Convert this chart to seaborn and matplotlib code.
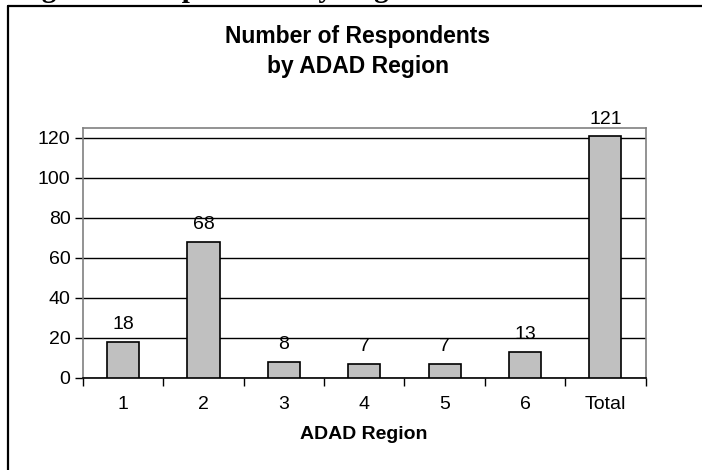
import matplotlib
matplotlib.use("Agg")
import matplotlib.pyplot as plt
from matplotlib.lines import Line2D
import seaborn as sns
import pandas as pd

regions = ["1", "2", "3", "4", "5", "6", "Total"]
respondents = [18, 68, 8, 7, 7, 13, 121]
y_ticks = [0, 20, 40, 60, 80, 100, 120]

sns.set_theme(style="white")
plt.rcParams["font.family"] = ["Liberation Sans", "DejaVu Sans"]
plt.rcParams["text.color"] = "black"
plt.rcParams["axes.labelcolor"] = "black"
plt.rcParams["xtick.color"] = "black"
plt.rcParams["ytick.color"] = "black"

df = pd.DataFrame({"region": regions, "count": respondents})

fig = plt.figure(figsize=(7.02, 4.70), dpi=100)
fig.patch.set_facecolor("white")
ax = fig.add_axes([83 / 702, 1 - 377.5 / 470, (645.5 - 83) / 702, (377.5 - 128) / 470])

sns.barplot(data=df, x="region", y="count", order=regions, color="#C0C0C0",
            edgecolor="black", linewidth=1.2, width=0.4, saturation=1, ax=ax, zorder=3)
for c in ax.containers:
    ax.bar_label(c, labels=[str(v) for v in respondents], padding=6,
                 fontsize=14, color="black")

ax.set_xlim(-0.5, len(regions) - 0.5)
ax.set_ylim(0, 125)
ax.set_yticks(y_ticks)
ax.set_yticklabels([str(t) for t in y_ticks], fontsize=14)
ax.yaxis.grid(True, color="black", linewidth=1.0, zorder=0)
ax.set_axisbelow(True)

# category labels at centres, tick marks at category boundaries
ax.set_xticks(range(len(regions)))
ax.set_xticklabels(regions, fontsize=14)
ax.set_xticks([i - 0.5 for i in range(len(regions) + 1)], minor=True)
ax.tick_params(axis="x", which="major", length=0, pad=13)
ax.tick_params(axis="x", which="minor", length=6, width=1, color="black",
               direction="out", bottom=True)
ax.tick_params(axis="y", length=6, width=1, color="black", direction="out",
               left=True, pad=3)

ax.set_xlabel("ADAD Region", fontsize=14, fontweight="bold", labelpad=10)
ax.set_ylabel("")

for side in ["top", "right", "left"]:
    ax.spines[side].set_visible(True)
    ax.spines[side].set_color("#808080")
    ax.spines[side].set_linewidth(1.2)
ax.spines["bottom"].set_color("black")
ax.spines["bottom"].set_linewidth(1.2)

fig.text(358 / 702, 1 - 36 / 470, "Number of Respondents", ha="center", va="center",
         fontsize=16.5, fontweight="bold")
fig.text(358 / 702, 1 - 67 / 470, "by ADAD Region", ha="center", va="center",
         fontsize=16.5, fontweight="bold")

# figure frame and the caption above it
fig.add_artist(Line2D([8 / 702, 1.01], [1 - 6 / 470, 1 - 6 / 470],
                      transform=fig.transFigure, color="black", linewidth=1.6))
fig.add_artist(Line2D([8 / 702, 8 / 702], [1 - 6 / 470, -0.01],
                      transform=fig.transFigure, color="black", linewidth=1.6))
fig.text(16 / 702, 1 + 3 / 470, "Figure 3: Respondents by Region", ha="left",
         va="baseline", fontsize=21, fontweight="bold",
         family=["Liberation Serif", "DejaVu Serif"])

fig.savefig("out.png", dpi=100, facecolor="white")
